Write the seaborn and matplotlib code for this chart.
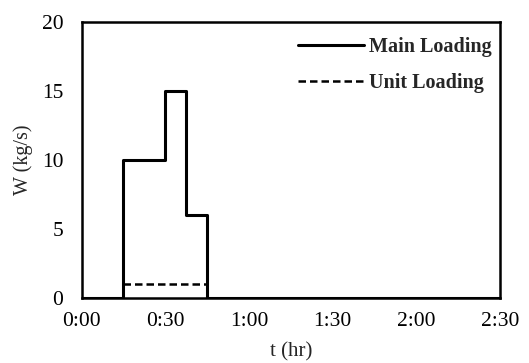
import matplotlib
matplotlib.use("Agg")
import matplotlib.pyplot as plt
import seaborn as sns
import pandas as pd

# data (time in minutes)
main_t = [0, 15, 30, 37.5, 45, 150]
main_w = [0, 10, 15, 6, 0, 0]
unit_t = [15, 45]
unit_w = [1, 1]
xtick_vals = [0, 30, 60, 90, 120, 150]
xtick_labels = ["0:00", "0:30", "1:00", "1:30", "2:00", "2:30"]
ytick_vals = [0, 5, 10, 15, 20]

sns.set_style("white")
plt.rcParams['font.family'] = ['Liberation Serif', 'DejaVu Serif']

fig = plt.figure(figsize=(5.29, 3.63), dpi=100)
ax = fig.add_axes([81.5/529, 1 - 298/363, (500 - 81.5)/529, (298 - 22)/363])

df_main = pd.DataFrame({"t": main_t, "W": main_w})
df_unit = pd.DataFrame({"t": unit_t, "W": unit_w})

sns.lineplot(data=df_main, x="t", y="W", ax=ax, color="black", lw=2.2,
             drawstyle="steps-post", label="Main Loading", estimator=None)
sns.lineplot(data=df_unit, x="t", y="W", ax=ax, color="black", lw=1.8,
             linestyle=(0, (3, 1.6)), label="Unit Loading", estimator=None)

ax.set_xlim(0, 150)
ax.set_ylim(0, 20)
ax.set_xticks(xtick_vals)
ax.set_xticklabels(xtick_labels)
ax.set_yticks(ytick_vals)
ax.tick_params(axis="both", direction="in", length=4, width=1.5, labelsize=15.5,
               colors="black")
ax.tick_params(axis="x", pad=10)
ax.tick_params(axis="y", pad=13)
for s in ax.spines.values():
    s.set_visible(True)
    s.set_color("black")
    s.set_linewidth(1.8)

ax.set_xlabel("t (hr)", fontsize=15, labelpad=8)
ax.set_ylabel("W (kg/s)", fontsize=14.5, labelpad=6)

leg = ax.legend(loc="upper right", bbox_to_anchor=(1.0, 0.975), frameon=False,
                prop={"weight": "bold", "size": 14.5},
                handlelength=3.3, labelspacing=0.8, handletextpad=0.25,
                borderaxespad=0.0)

fig.savefig("out.png", dpi=100)
